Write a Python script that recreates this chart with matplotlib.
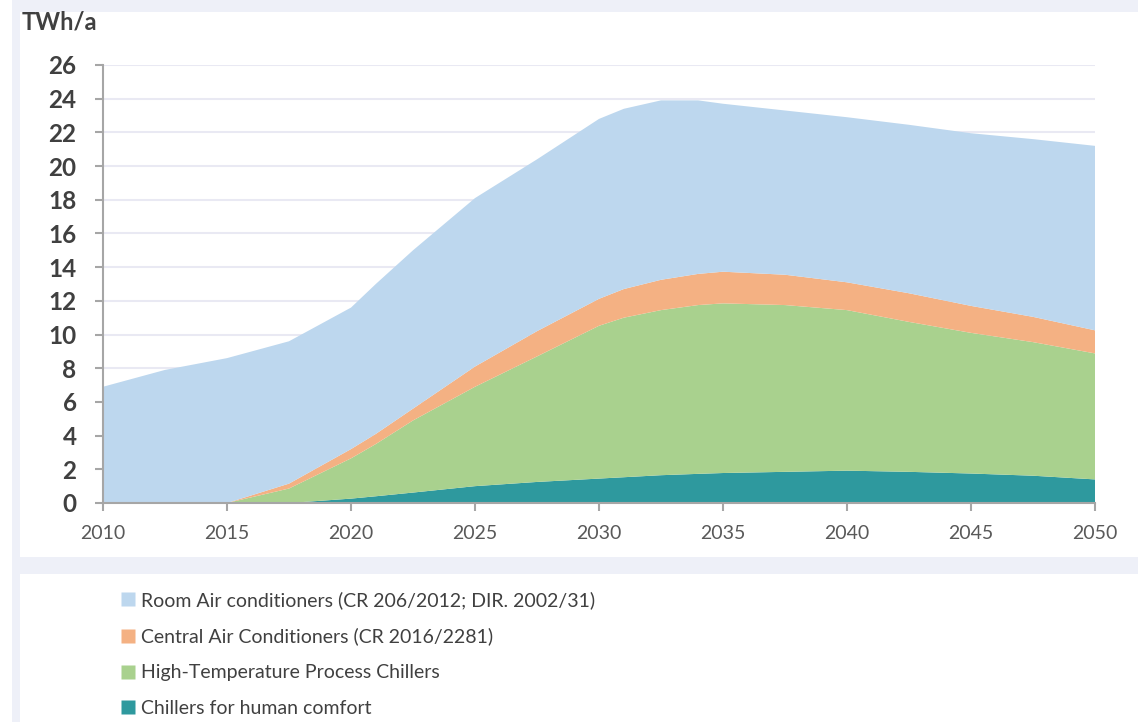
import matplotlib.pyplot as plt
from matplotlib.patches import Rectangle
from matplotlib.lines import Line2D

# Werte (TWh/a), je Kategorie (nicht kumuliert)
years = [2010, 2012.5, 2015, 2017.5, 2020, 2021, 2022.5, 2025, 2027.5, 2030,
         2031, 2032.5, 2034, 2035, 2037.5, 2040, 2042.5, 2045, 2047.5, 2050]
chillers_comfort = [0, 0, 0, 0.0, 0.26, 0.4, 0.62, 1.0, 1.25, 1.45,
                    1.53, 1.65, 1.73, 1.78, 1.85, 1.92, 1.85, 1.75, 1.62, 1.4]
ht_process_chillers = [0, 0, 0, 0.86, 2.39, 3.1, 4.28, 5.9, 7.45, 9.07,
                       9.47, 9.8, 10.02, 10.07, 9.9, 9.53, 8.9, 8.35, 7.93, 7.48]
central_ac = [0, 0, 0, 0.29, 0.55, 0.6, 0.7, 1.2, 1.5, 1.6,
              1.7, 1.8, 1.85, 1.88, 1.8, 1.65, 1.7, 1.6, 1.5, 1.37]
room_ac = [6.9, 7.9, 8.6, 8.45, 8.4, 8.9, 9.4, 10.0, 10.2, 10.68,
           10.7, 10.65, 10.3, 9.97, 9.75, 9.8, 10.0, 10.25, 10.55, 10.95]

labels = ['Room Air conditioners (CR 206/2012; DIR. 2002/31)',
          'Central Air Conditioners (CR 2016/2281)',
          'High-Temperature Process Chillers',
          'Chillers for human comfort']
colors = ['#bdd7ee', '#f4b183', '#a9d18e', '#2e999e']

x_ticks = [2010, 2015, 2020, 2025, 2030, 2035, 2040, 2045, 2050]
y_ticks = list(range(0, 27, 2))

plt.rcParams['font.family'] = ['Lato', 'DejaVu Sans']

fig = plt.figure(figsize=(11.38, 7.22), dpi=100, facecolor='#eef0f8')

# weiße Felder für Diagramm und Legende (hinter den Achsen)
fig.patches.append(Rectangle((0, 0), 12 / 1138, 1, transform=fig.transFigure,
                             facecolor='white', edgecolor='none', zorder=-5))
fig.patches.append(Rectangle((20 / 1138, 1 - 557 / 722), 1, (557 - 12) / 722,
                             transform=fig.transFigure, facecolor='white',
                             edgecolor='none', zorder=-5))
fig.patches.append(Rectangle((20 / 1138, 0), 1, 1 - 574 / 722,
                             transform=fig.transFigure, facecolor='white',
                             edgecolor='none', zorder=-5))

ax = fig.add_axes([103 / 1138, 1 - 503 / 722, (1095 - 103) / 1138, (503 - 65) / 722])
ax.set_facecolor('none')
ax.set_zorder(2)

ax.stackplot(years, chillers_comfort, ht_process_chillers, central_ac, room_ac,
             colors=colors[::-1], linewidth=0, zorder=2)

ax.set_xlim(2010, 2050)
ax.set_ylim(0, 26)
ax.set_xticks(x_ticks)
ax.set_yticks(y_ticks)
ax.grid(axis='y', color='#e9e9f3', linewidth=1.5, zorder=1)
ax.set_axisbelow(True)

for side in ['top', 'right']:
    ax.spines[side].set_visible(False)
for side in ['left', 'bottom']:
    ax.spines[side].set_color('#a6a6a6')
    ax.spines[side].set_linewidth(1.5)
    ax.spines[side].set_zorder(3)

ax.tick_params(axis='y', length=6, width=1.5, color='#a6a6a6', pad=13,
               labelsize=17.5, labelcolor='#404040')
ax.tick_params(axis='x', length=6, width=1.5, color='#a6a6a6', pad=10,
               labelsize=14, labelcolor='#595959')
for lbl in ax.get_yticklabels():
    lbl.set_fontweight('bold')

fig.text(22 / 1138, 1 - 22 / 722, 'TWh/a', fontsize=17, fontweight='bold',
         color='#404040', va='center', ha='left')

handles = [Line2D([], [], marker='s', linestyle='none', markersize=10,
                  markerfacecolor=c, markeredgecolor='none') for c in colors]
fig.legend(handles, labels, loc='upper left',
           bbox_to_anchor=(112 / 1138, 1 - 583 / 722), frameon=False,
           fontsize=14, labelcolor='#404040', handlelength=0.8,
           handletextpad=0.3, labelspacing=0.97, borderaxespad=0)

plt.savefig('out.png', dpi=100, facecolor=fig.get_facecolor())
